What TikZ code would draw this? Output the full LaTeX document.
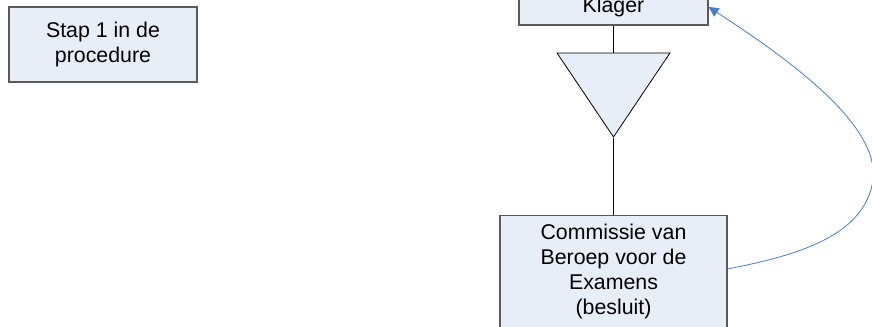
\documentclass[tikz,border=0pt]{standalone}
\usepackage{fontspec}
\setmainfont{Liberation Sans}
\usetikzlibrary{arrows.meta,shapes.geometric}
\definecolor{boxfill}{HTML}{E8EEF7}
\definecolor{boxline}{HTML}{5A5A5A}
\definecolor{loopblue}{HTML}{4A7CC9}

\begin{document}
\begin{tikzpicture}[x=0.75pt,y=-0.75pt,>=Stealth,
    stapbox/.style={draw=boxline,fill=boxfill,line width=0.9pt,align=center,
      font=\fontsize{16pt}{18.6pt}\selectfont,inner sep=0pt},
    funnel/.style={draw=black,fill=boxfill,line width=0.6pt,isosceles triangle,
      isosceles triangle stretches,shape border rotate=270,inner sep=0pt}]
        \useasboundingbox (0,0) rectangle (872,327);
        \clip (0,0) rectangle (872,327);
        \node[stapbox,minimum width=141pt,minimum height=56.25pt] (stap) at (103,44.5)
          {Stap 1 in de\\procedure};
        \node[stapbox,minimum width=141.75pt,minimum height=27pt] (klager) at (613.5,7)
          {Klager};
        \node[funnel,minimum width=84.75pt,minimum height=63pt,anchor=apex] (tri) at (613.5,138) {};
        \node[stapbox,minimum width=170.25pt,minimum height=84pt,anchor=north] (cvbe) at (613.5,215)
          {Commissie van\\Beroep voor de\\Examens\\(besluit)};
        \draw[line width=0.6pt] (klager.south) -- (tri.north);
        \draw[line width=0.6pt] (tri.apex) -- (cvbe.north);
        % terug naar de klager
        \draw[loopblue,line width=0.6pt,-{Triangle[length=7.5pt,width=7.5pt]}]
          ([yshift=2pt]cvbe.east) .. controls (800,255) and (865,235) .. (873,180)
          .. controls (880,125) and (790,60) .. ([yshift=0pt]klager.east);
      \end{tikzpicture}
\end{document}
